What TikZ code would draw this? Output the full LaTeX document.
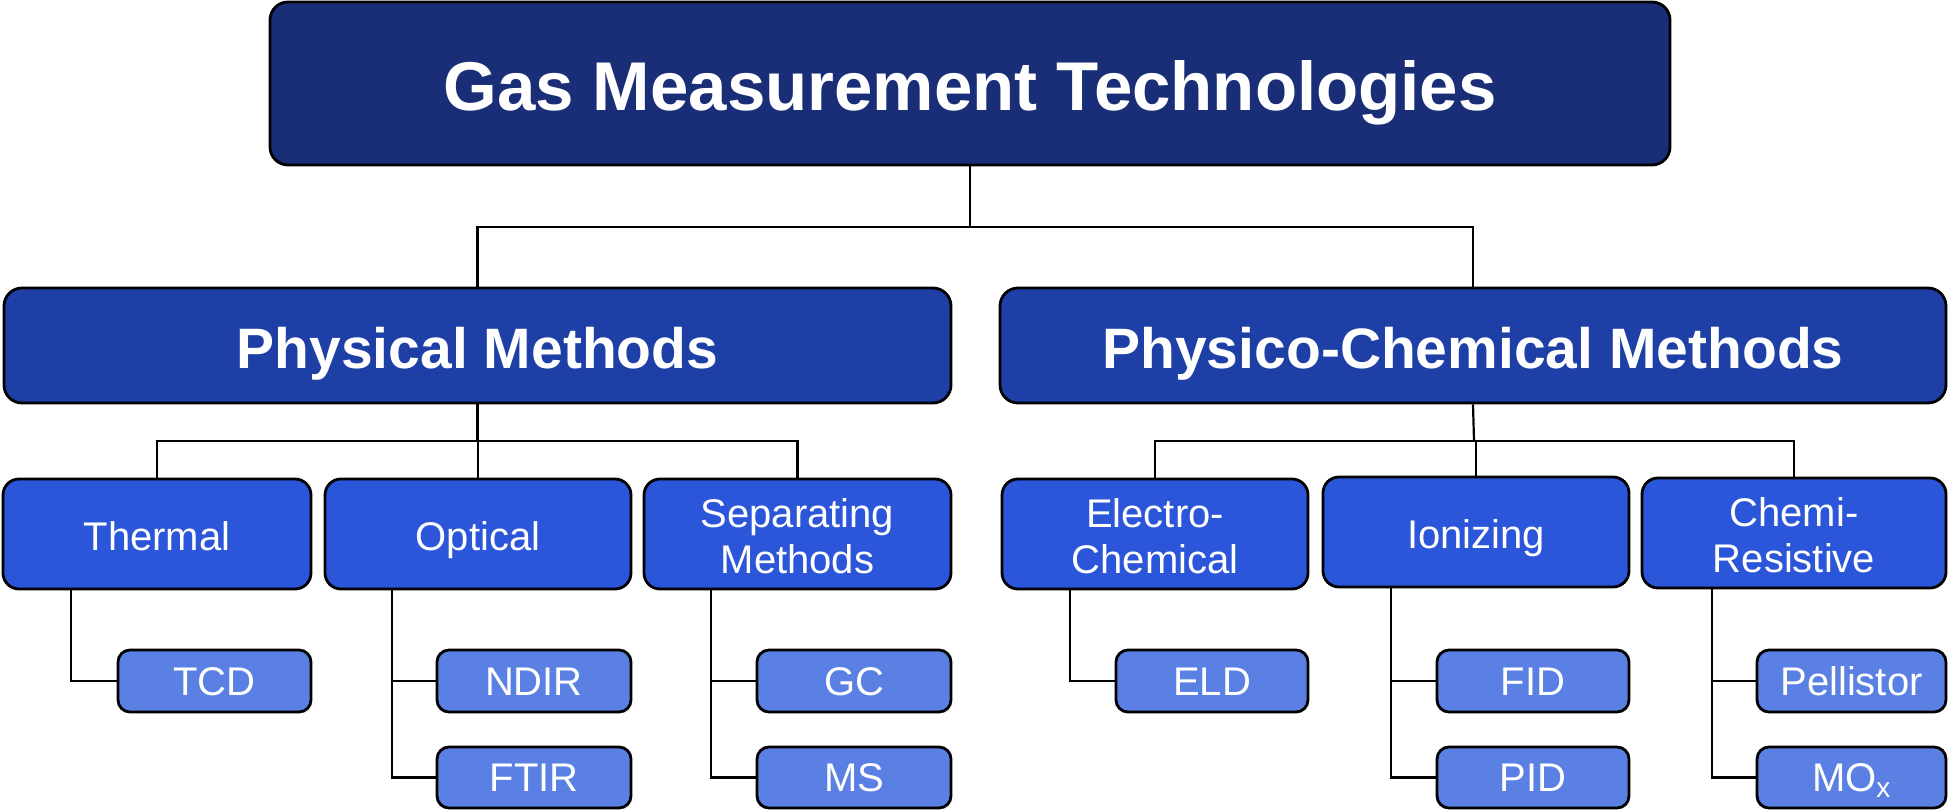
\documentclass[tikz,border=0pt]{standalone}
\usepackage{fontspec}
\setmainfont{Liberation Sans}
\definecolor{cTop}{HTML}{1A2E78}
\definecolor{cOne}{HTML}{1E3FA6}
\definecolor{cTwo}{HTML}{2B56D9}
\definecolor{cLeaf}{HTML}{5B80E3}
\tikzset{
  box/.style={draw=black, line width=2.8pt, rounded corners=18pt, text=white, inner sep=0pt, align=center, text depth=0pt},
  topbox/.style={box, fill=cTop, text height=54pt, font=\fontsize{69}{80}\selectfont\bfseries},
  onebox/.style={box, fill=cOne, text height=45pt, font=\fontsize{57}{66}\selectfont\bfseries},
  twobox/.style={box, fill=cTwo, rounded corners=16pt, text height=32pt, font=\fontsize{40}{46}\selectfont},
  twoline/.style={text height=78pt},
  leafbox/.style={box, fill=cLeaf, rounded corners=12pt, text height=28pt, font=\fontsize{40}{46}\selectfont},
  conn/.style={draw=black, line width=2.2pt}
}
\begin{document}
\begin{tikzpicture}[x=1pt,y=-1pt]
\useasboundingbox (0,0) rectangle (1949,810);
% top
\node[topbox, minimum width=1400pt, minimum height=163pt] (top) at (970,83.5) {Gas Measurement Technologies};
% level 1
\node[onebox, minimum width=947pt, minimum height=115pt] (phys) at (477.5,345.5) {Physical Methods};
\node[onebox, minimum width=946pt, minimum height=115pt] (chem) at (1473,345.5) {Physico-Chemical Methods};
% level 2
\node[twobox, minimum width=308pt, minimum height=110pt] (thermal) at (157,534) {Thermal};
\node[twobox, minimum width=306pt, minimum height=110pt] (optical) at (478,534) {Optical};
\node[twobox, twoline, minimum width=307pt, minimum height=110pt] (sep) at (797.5,534) {Separating\\Methods};
\node[twobox, twoline, minimum width=306pt, minimum height=110pt] (electro) at (1155,534) {Electro-\\Chemical};
\node[twobox, minimum width=306pt, minimum height=110pt] (ion) at (1476,532) {Ionizing};
\node[twobox, twoline, minimum width=304pt, minimum height=110pt] (chemi) at (1794,533) {Chemi-\\Resistive};
% leaves
\node[leafbox, minimum width=193pt, minimum height=62pt] (tcd) at (214.5,681) {TCD};
\node[leafbox, minimum width=194pt, minimum height=62pt] (ndir) at (534,681) {NDIR};
\node[leafbox, minimum width=194pt, minimum height=61pt] (ftir) at (534,777.5) {FTIR};
\node[leafbox, minimum width=194pt, minimum height=62pt] (gc) at (854,681) {GC};
\node[leafbox, minimum width=194pt, minimum height=61pt] (ms) at (854,777.5) {MS};
\node[leafbox, minimum width=192pt, minimum height=62pt] (eld) at (1212,681) {ELD};
\node[leafbox, minimum width=192pt, minimum height=62pt] (fid) at (1533,681) {FID};
\node[leafbox, minimum width=192pt, minimum height=61pt] (pid) at (1533,777.5) {PID};
\node[leafbox, minimum width=189pt, minimum height=62pt] (pel) at (1851.5,681) {Pellistor};
\node[leafbox, minimum width=189pt, minimum height=61pt] (mox) at (1851.5,777.5) {MO\textsubscript{x}};
% connectors top -> level 1
\coordinate (hub0) at (970,227);
\draw[conn] (top.south) -- (hub0);
\draw[conn] (phys.north) |- (hub0);
\draw[conn] (chem.north) |- (hub0);
% level 1 -> level 2
\coordinate (hub1) at (477.5,441);
\draw[conn] (phys.south) -- (hub1);
\draw[conn] (thermal.north) |- (hub1);
\draw[conn] (optical.north) -- (optical.north |- hub1);
\draw[conn] (sep.north) |- (hub1);
\coordinate (hub2) at (1474,441);
\draw[conn] (chem.south) -- (hub2);
\draw[conn] (electro.north) |- (hub2);
\draw[conn] (ion.north) -- (ion.north |- hub2);
\draw[conn] (chemi.north) |- (hub2);
% level 2 -> leaves
\draw[conn] (thermal.south west) ++(69,0) |- (tcd.west);
\draw[conn] (optical.south west) ++(68,0) |- (ndir.west);
\draw[conn] (optical.south west) ++(68,0) |- (ftir.west);
\draw[conn] (sep.south west) ++(68,0) |- (gc.west);
\draw[conn] (sep.south west) ++(68,0) |- (ms.west);
\draw[conn] (electro.south west) ++(69,0) |- (eld.west);
\draw[conn] (ion.south west) ++(69,0) |- (fid.west);
\draw[conn] (ion.south west) ++(69,0) |- (pid.west);
\draw[conn] (chemi.south west) ++(71,0) |- (pel.west);
\draw[conn] (chemi.south west) ++(71,0) |- (mox.west);
\end{tikzpicture}
\end{document}
